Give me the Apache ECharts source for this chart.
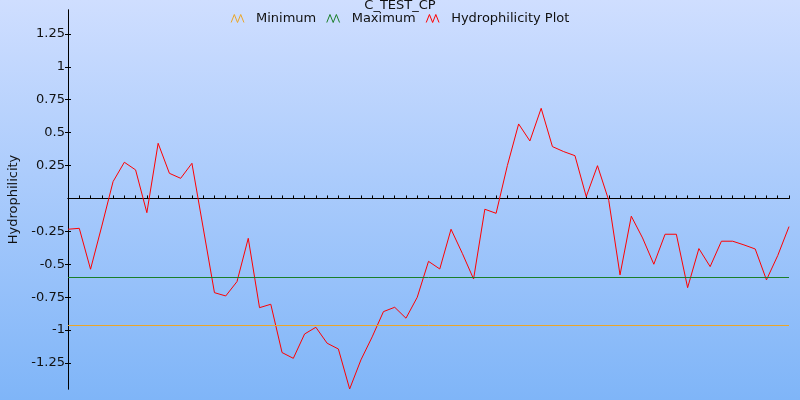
<!DOCTYPE html>
<html>
<head>
<meta charset="utf-8">
<script src="https://cdn.jsdelivr.net/npm/echarts@6/dist/echarts.min.js"></script>
<style>
  html, body { margin: 0; padding: 0; }
  #chart { width: 800px; height: 400px; }
</style>
</head>
<body>
<div id="chart"></div>
<script>
// ---- data ----
const chartTitle = 'C_TEST_CP';
const yAxisName = 'Hydrophilicity';
const positions = [];
for (let i = 1; i <= 65; i++) positions.push(String(i));

const hydrophilicity = [
  -0.234, -0.227, -0.538, -0.21, 0.128, 0.275, 0.217, -0.108, 0.419, 0.191,
   0.153,  0.267, -0.224, -0.716, -0.741, -0.632, -0.303, -0.83, -0.804, -1.171,
  -1.215, -1.03, -0.979, -1.1, -1.144, -1.448, -1.227, -1.052, -0.86, -0.827,
  -0.91, -0.751, -0.478, -0.536, -0.234, -0.417, -0.612, -0.082, -0.113, 0.25,
   0.566, 0.437, 0.685, 0.394, 0.356, 0.325, 0.014, 0.249, -0.015, -0.581,
  -0.135, -0.3, -0.5, -0.272, -0.272, -0.678, -0.381, -0.518, -0.325, -0.325,
  -0.353, -0.384, -0.619, -0.434, -0.214
];
const minimumValue = -0.964;
const maximumValue = -0.597;

const yTickValues = [-1.25, -1, -0.75, -0.5, -0.25, 0.25, 0.5, 0.75, 1, 1.25];
const yMin = -1.448;
const yMax = 1.432;

const seriesNames = ['Minimum', 'Maximum', 'Hydrophilicity Plot'];
const seriesColors = ['#eba628', '#1a7f2a', '#ff0000'];

// ---- chart ----
const chart = echarts.init(document.getElementById('chart'));
const font = 'DejaVu Sans';
const zigzag = 'path://M0,10 L4,0 L8,10 L12,0 L16,10';

const baseX = {
  type: 'category',
  data: positions,
  boundaryGap: false,
  axisLine: { onZero: true, onZeroAxisIndex: 0, lineStyle: { color: '#000', width: 1 } },
  axisLabel: { show: false },
  splitLine: { show: false }
};
const baseY = {
  type: 'value',
  min: yMin,
  max: yMax,
  position: 'left',
  axisLine: { show: true, lineStyle: { color: '#000', width: 1 } },
  splitLine: { show: false }
};

chart.setOption({
  backgroundColor: {
    type: 'linear', x: 0, y: 0, x2: 0, y2: 1,
    colorStops: [{ offset: 0, color: '#cfdeff' }, { offset: 1, color: '#7fb5f8' }]
  },
  animation: false,
  textStyle: { fontFamily: font },
  title: {
    text: chartTitle,
    left: 'center',
    top: -1,
    padding: 0,
    textStyle: { fontFamily: font, fontSize: 13, fontWeight: 'normal', color: '#111' }
  },
  legend: {
    top: 12,
    left: 'center',
    padding: 0,
    itemGap: 10,
    itemWidth: 17,
    itemHeight: 8,
    textStyle: { fontFamily: font, fontSize: 13, color: '#111', padding: [0, 0, 0, 5] },
    data: seriesNames.map((n, i) => ({
      name: n,
      icon: zigzag,
      itemStyle: { color: 'transparent', borderColor: seriesColors[i], borderWidth: 1 }
    }))
  },
  grid: { left: 68, right: 11, top: 10, bottom: 11, containLabel: false, outerBoundsMode: 'none' },
  xAxis: [
    Object.assign({}, baseX, { axisTick: { show: true, inside: true, length: 2, interval: 0, lineStyle: { color: '#000' } } }),
    Object.assign({}, baseX, { axisTick: { show: true, inside: false, length: 3, interval: 0, lineStyle: { color: '#000' } } })
  ],
  yAxis: [
    Object.assign({}, baseY, {
      name: yAxisName,
      nameLocation: 'middle',
      nameGap: 46,
      nameTextStyle: { fontFamily: font, fontSize: 13, color: '#111' },
      axisTick: { show: true, inside: false, length: 3, customValues: yTickValues, lineStyle: { color: '#000' } },
      axisLabel: {
        show: true, margin: 3, customValues: yTickValues,
        fontFamily: font, fontSize: 13, color: '#111',
        formatter: v => String(v)
      }
    }),
    Object.assign({}, baseY, {
      axisTick: { show: true, inside: true, length: 3, customValues: yTickValues, lineStyle: { color: '#000' } },
      axisLabel: { show: false }
    })
  ],
  series: [
    {
      name: seriesNames[0], type: 'line', data: [], color: seriesColors[0],
      markLine: {
        silent: true, symbol: 'none', label: { show: false },
        lineStyle: { color: seriesColors[0], type: 'solid', width: 1 },
        data: [{ yAxis: minimumValue }]
      }
    },
    {
      name: seriesNames[1], type: 'line', data: [], color: seriesColors[1],
      markLine: {
        silent: true, symbol: 'none', label: { show: false },
        lineStyle: { color: seriesColors[1], type: 'solid', width: 1 },
        data: [{ yAxis: maximumValue }]
      }
    },
    {
      name: seriesNames[2], type: 'line', data: hydrophilicity,
      color: seriesColors[2],
      showSymbol: false, symbol: 'none',
      lineStyle: { color: seriesColors[2], width: 1 }
    }
  ]
});
</script>
</body>
</html>
